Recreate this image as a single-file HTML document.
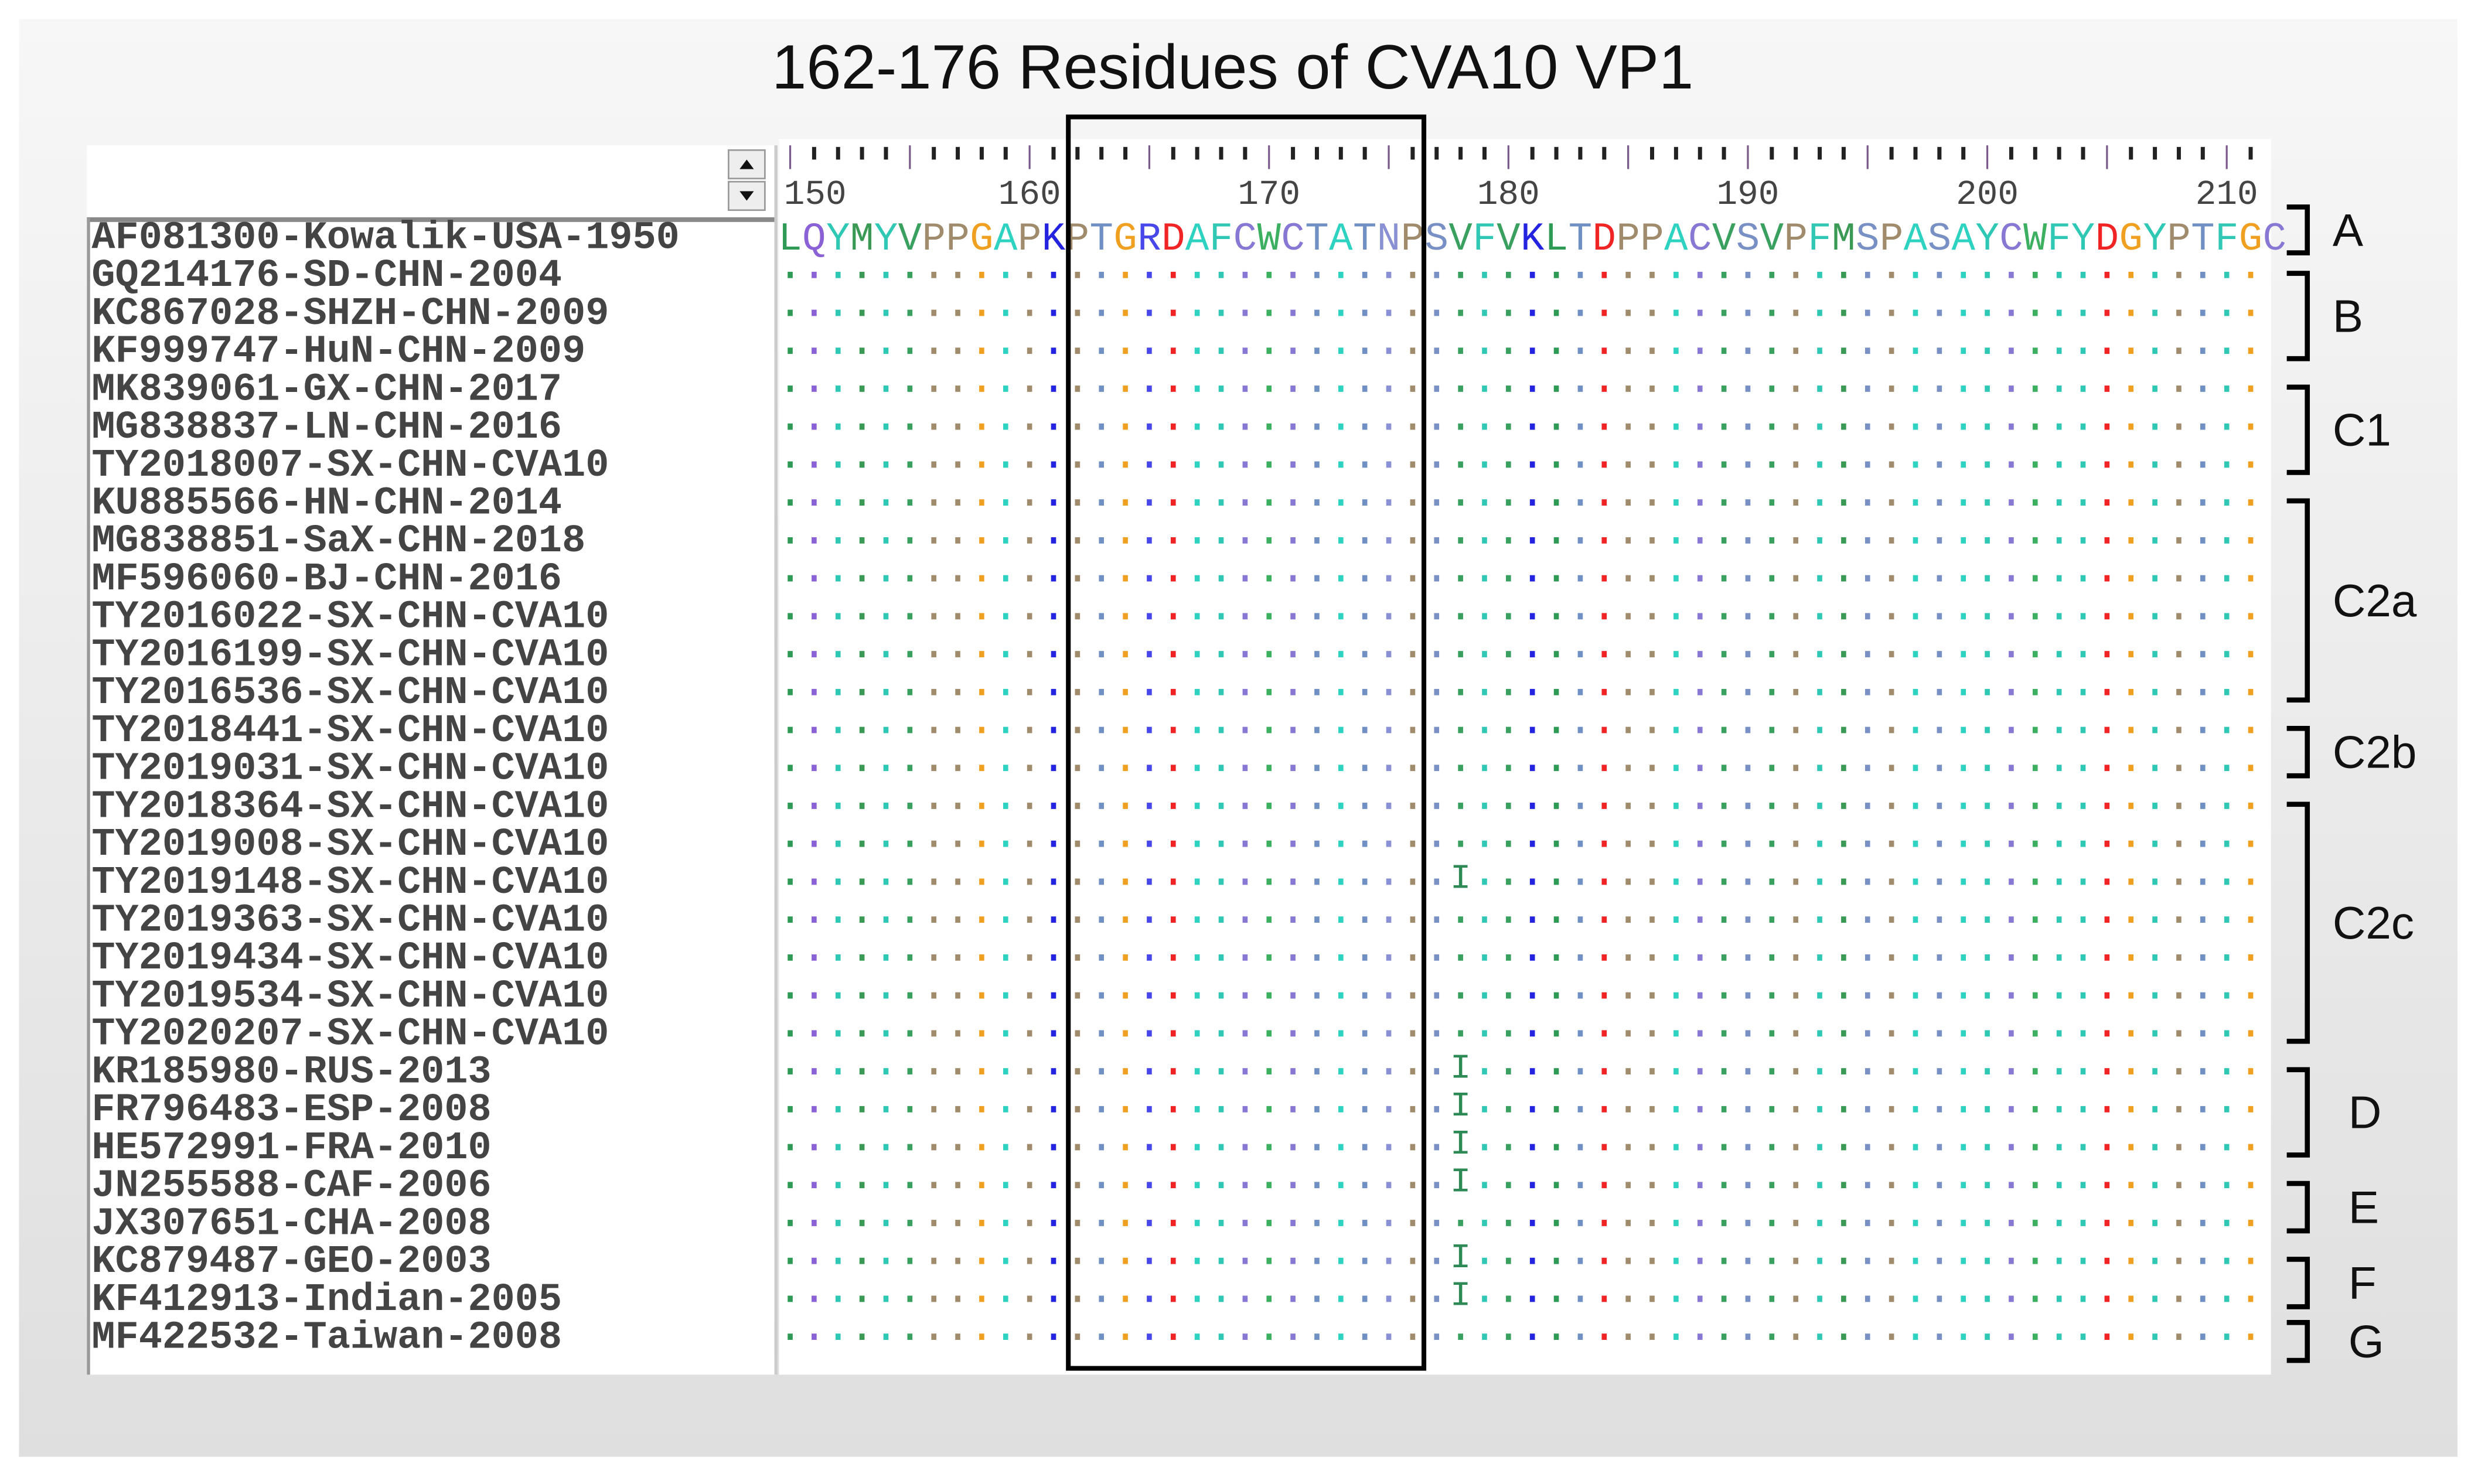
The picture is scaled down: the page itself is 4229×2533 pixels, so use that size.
<!DOCTYPE html>
<html><head><meta charset="utf-8"><title>162-176 Residues of CVA10 VP1</title>
<style>html,body{margin:0;padding:0;background:#fff;}svg{display:block;}</style></head>
<body>
<svg id="chart" xmlns="http://www.w3.org/2000/svg" width="4229" height="2533" viewBox="0 0 1568 939.2" preserveAspectRatio="none">
<defs>
<linearGradient id="bg" x1="0" y1="0" x2="0" y2="1">
<stop offset="0" stop-color="#f7f7f7"/><stop offset="1" stop-color="#dfdfdf"/>
</linearGradient>
</defs>
<rect x="12" y="12" width="1543" height="910" fill="url(#bg)"/>
<text x="780" y="56" text-anchor="middle" font-family="Liberation Sans, sans-serif" font-size="39.5" fill="#111">162-176 Residues of CVA10 VP1</text>
<rect x="55" y="92" width="437" height="46" fill="#fff"/>
<rect x="55" y="138" width="437" height="732" fill="#fff"/>
<line x1="55" y1="139" x2="490" y2="139" stroke="#888" stroke-width="3"/>
<line x1="56" y1="138" x2="56" y2="870" stroke="#999" stroke-width="2"/>
<line x1="491" y1="92" x2="491" y2="870" stroke="#ccc" stroke-width="2"/>
<g>
<rect x="461" y="95" width="23" height="18" fill="#eee" stroke="#999" stroke-width="1"/>
<path d="M468 107 L477 107 L472.5 101 Z" fill="#111"/></g>
<g>
<rect x="461" y="115" width="23" height="18" fill="#eee" stroke="#999" stroke-width="1"/>
<path d="M468 121 L477 121 L472.5 127 Z" fill="#111"/></g>
<rect x="493" y="88" width="944" height="782" fill="#fff"/>
<g id="names"></g><g id="ticks"></g><g id="seq"></g><g id="groups"></g>
<rect x="676" y="74" width="225" height="792" fill="none" stroke="#000" stroke-width="3"/>
</svg>
<script>
const names = ["AF081300-Kowalik-USA-1950","GQ214176-SD-CHN-2004","KC867028-SHZH-CHN-2009","KF999747-HuN-CHN-2009","MK839061-GX-CHN-2017","MG838837-LN-CHN-2016","TY2018007-SX-CHN-CVA10","KU885566-HN-CHN-2014","MG838851-SaX-CHN-2018","MF596060-BJ-CHN-2016","TY2016022-SX-CHN-CVA10","TY2016199-SX-CHN-CVA10","TY2016536-SX-CHN-CVA10","TY2018441-SX-CHN-CVA10","TY2019031-SX-CHN-CVA10","TY2018364-SX-CHN-CVA10","TY2019008-SX-CHN-CVA10","TY2019148-SX-CHN-CVA10","TY2019363-SX-CHN-CVA10","TY2019434-SX-CHN-CVA10","TY2019534-SX-CHN-CVA10","TY2020207-SX-CHN-CVA10","KR185980-RUS-2013","FR796483-ESP-2008","HE572991-FRA-2010","JN255588-CAF-2006","JX307651-CHA-2008","KC879487-GEO-2003","KF412913-Indian-2005","MF422532-Taiwan-2008"];
const refSeq = "LQYMYVPPGAPKPTGRDAFCWCTATNPSVFVKLTDPPACVSVPFMSPASAYCWFYDGYPTFGC";
const startPos = 150;
const tickLabels = [150,160,170,180,190,200,210];
const mutRows = [17,22,23,24,25,27,28];
const mutPos = [178,178,178,178,178,178,178];
const mutRes = ["I","I","I","I","I","I","I"];
const groupLabels = ["A","B","C1","C2a","C2b","C2c","D","E","F","G"];
const groupStart = [0,1,4,7,13,15,22,25,27,29];
const groupEnd = [0,3,6,12,14,21,24,26,28,29];

const NS="http://www.w3.org/2000/svg";
const colors={L:"#2e9a55",Q:"#8a62d6",Y:"#2ec8b4",M:"#3a9a55",V:"#3aa060",P:"#a08c6c",G:"#f0a020",A:"#2ed2c0",K:"#2424e0",T:"#7090c4",R:"#4848ea",D:"#f02424",F:"#30c8b4",C:"#8878d4",W:"#3cb060",N:"#8a90d4",S:"#7890c4",I:"#2e8a55",E:"#e04040",H:"#5050d0"};
const xPos=p=>500+15.15*(p-startPos);
const yRow=i=>150+24*i;
function mk(tag,attrs,parent){const e=document.createElementNS(NS,tag);for(const k in attrs)e.setAttribute(k,attrs[k]);parent.appendChild(e);return e;}

const gN=document.getElementById('names');
names.forEach((n,i)=>{
  const t=mk('text',{x:58,y:yRow(i)+7,'font-family':'Liberation Mono, monospace','font-size':24.8,'font-weight':'bold',fill:'#444'},gN);
  
  
  t.textContent=n;
});

const gT=document.getElementById('ticks');
for(let k=0;k<refSeq.length-1;k++){
  const p=startPos+k, x=xPos(p);
  const major=(p%5===0);
  const l=mk('line',{x1:x,x2:x,y1:major?92:93,y2:major?107:101,stroke:major?'#7a5a8a':'#222','stroke-width':major?1.2:2.6},gT);
  
  
}
tickLabels.forEach((v,i)=>{
  const t=mk('text',{x:i===0?xPos(v)-4:xPos(v),y:129,'text-anchor':i===0?'start':'middle','font-family':'Liberation Mono, monospace','font-size':22,fill:'#444'},gT);
  
  
  t.textContent=v;
});

const gS=document.getElementById('seq');
for(let k=0;k<refSeq.length;k++){
  const c=refSeq[k];
  const t=mk('text',{x:xPos(startPos+k),y:yRow(0)+8,'text-anchor':'middle','font-family':'Liberation Mono, monospace','font-size':25,fill:colors[c]||'#888'},gS);
  
  
  t.textContent=c;
}
for(let i=1;i<names.length;i++){
  for(let k=0;k<refSeq.length;k++){
    const p=startPos+k;
    let m=-1;
    for(let j=0;j<mutRows.length;j++) if(mutRows[j]===i&&mutPos[j]===p) m=j;
    if(m>=0){
      const t=mk('text',{x:xPos(p),y:yRow(i)+4,'text-anchor':'middle','font-family':'Liberation Mono, monospace','font-size':22,fill:colors[mutRes[m]]},gS);
      
      
      t.textContent=mutRes[m];
    } else {
      if(xPos(p)>1436) continue;
      const r=mk('rect',{x:xPos(p)-1.6,y:yRow(i)-2,width:3.2,height:4,fill:colors[refSeq[k]]||'#888'},gS);
      
      
    }
  }
}

const gG=document.getElementById('groups');
groupLabels.forEach((lab,g)=>{
  const single=groupStart[g]===groupEnd[g];
  const top=yRow(groupStart[g])-(single?(g===0?19:9):1), bot=yRow(groupEnd[g])+(single?(g===0?10:15):5);
  const p=mk('path',{d:`M1447 ${top} L1460 ${top} L1460 ${bot} L1447 ${bot}`,fill:'none',stroke:'#000','stroke-width':3.2},gG);
  
  
  const lx=(g>=6)?1486:1476;
  const t=mk('text',{x:lx,y:(top+bot)/2+10,'font-family':'Liberation Sans, sans-serif','font-size':29,fill:'#111'},gG);
  
  
  t.textContent=lab;
});
</script>
</body></html>
